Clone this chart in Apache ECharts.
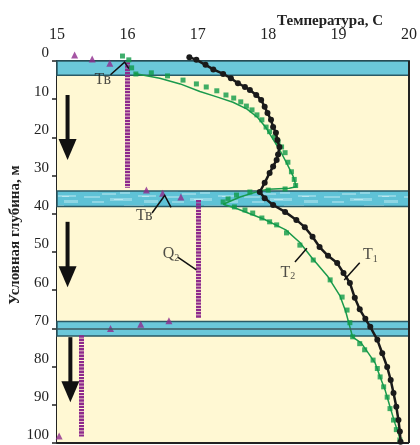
<!DOCTYPE html>
<html>
<head>
<meta charset="utf-8">
<script src="https://cdn.jsdelivr.net/npm/echarts@6/dist/echarts.min.js"></script>
<style>
html, body { margin: 0; padding: 0; background: #fff; }
#chart { width: 420px; height: 445px; }
</style>
</head>
<body>
<div id="chart"></div>
<script>
// temperature ticks (top axis) and depth ticks (left axis)
var tempTicks = [15, 16, 17, 18, 19, 20];
var depthTicks = [0, 10, 20, 30, 40, 50, 60, 70, 80, 90, 100];

// water-bearing layers, depth from / to (m)
var layerTop = [0, 34.0, 68.2];
var layerBottom = [3.7, 38.1, 72.0];

// T1 - measured profile, [temperature, depth]
var t1 = [[16.88,-1],[16.98,-0.3],[17.11,1],[17.22,2.2],[17.36,3.4],[17.47,4.5],[17.57,5.8],
  [17.67,6.8],[17.74,7.6],[17.83,8.9],[17.9,10.2],[17.95,12],[17.99,13.6],[18.04,15.4],
  [18.07,17.3],[18.11,18.8],[18.13,20.7],[18.16,22.5],[18.14,24.5],[18.12,25.9],[18.07,27.6],
  [18.02,29.3],[17.95,31.9],[17.88,34.3],[17.95,35.9],[18.07,37.7],[18.24,39.5],[18.4,41.6],
  [18.52,43.5],[18.63,46],[18.73,48.7],[18.85,51],[18.98,52.9],[19.07,55.5],[19.16,58.1],
  [19.23,62],[19.3,65],[19.38,67.5],[19.45,69.6],[19.55,73],[19.62,76.5],[19.69,80.1],
  [19.74,83.5],[19.78,86.9],[19.82,90.5],[19.85,94],[19.87,97],[19.88,99.7]];

// T2 - second profile points (squares)
var t2 = [[15.93,-1.3],[16.02,-0.3],[16.06,1.8],[16.12,3.4],[16.34,3.1],[16.57,3.9],[16.79,5],
  [16.98,6],[17.12,6.8],[17.27,7.8],[17.4,8.9],[17.51,9.7],[17.61,10.7],[17.69,11.8],[17.77,12.8],
  [17.84,14.1],[17.91,15.4],[17.97,17.3],[18.02,18.5],[18.09,19.9],[18.14,21.2],[18.19,22.5],
  [18.24,24],[18.28,26.5],[18.33,29],[18.37,31],[18.39,32.6],[18.24,33.5],[18.0,33.8],
  [17.74,34.3],[17.55,35.1],[17.43,36.1],[17.36,36.9],[17.52,38.2],[17.67,39],[17.78,39.8],
  [17.91,41.1],[18.02,42.1],[18.12,42.9],[18.26,45],[18.45,48.2],[18.64,52.1],[18.88,57.3],
  [19.05,61.8],[19.12,65.2],[19.16,68.5],[19.2,72.2],[19.3,74],[19.37,75.6],[19.49,78.3],
  [19.55,80.5],[19.59,82.7],[19.64,85.3],[19.69,88],[19.73,91],[19.78,94],[19.82,96.5],[19.87,99.2]];

// T2 - fitted line
var t2Line = [[16.1,3.3],[16.46,4.5],[16.75,6.0],[17.03,8],[17.27,9.4],[17.5,10.8],[17.7,12.6],
  [17.85,14.8],[17.97,17.5],[18.07,20.5],[18.17,23.5],[18.27,27],[18.35,30],[18.4,32.9],
  [18.3,33.3],[18.0,33.6],[17.88,34.0],[17.6,35.6],[17.36,37.5],[17.55,38.6],[17.95,41.5],
  [18.25,44.2],[18.45,47.5],[18.62,51.5],[18.85,56.5],[19.02,61.5],[19.1,65.5],[19.16,69.6],
  [19.2,72.3],[19.32,73.8],[19.42,76.4],[19.52,79.1],[19.59,82.7],[19.66,86.1],[19.73,90.5],
  [19.8,94.8],[19.87,98.7]];

// purple columns (Q): temperature, depth from, depth to
var qTemp = [16.0, 17.0, 15.35];
var qFrom = [0.3, 36.4, 71.8];
var qTo = [33.2, 67.3, 98.3];

// single triangles (Тв)
var tvPoints = [[15.25,-1.6],[15.5,-0.5],[15.75,0.6],[16.27,33.8],[16.5,34.6],[16.76,35.6],
  [15.76,70],[16.19,68.9],[16.59,68],[15.03,98.2]];

// flow arrows: x, depth top, depth tip
var arrowX = [15.15, 15.15, 15.19];
var arrowTop = [8.9, 42.1, 72.3];
var arrowTip = [25.9, 59.2, 89.3];

// text labels and their leader lines
var labels = [
  {name: 'Тв', value: [15.65, 5.0]},
  {name: 'Тв', value: [16.24, 40.6]},
  {name: 'Q2', value: [16.62, 50.6]},
  {name: 'T1', value: [19.45, 50.8]},
  {name: 'T2', value: [18.28, 55.4]}
];
var leaders = [
  [[15.76,3.6],[15.96,0.3],[16.02,2.0]],
  [[16.35,39.8],[16.53,35.2],[16.62,38.3]],
  [[16.72,51.4],[16.98,54.7]],
  [[19.3,52.8],[19.08,57.3]],
  [[18.38,52.6],[18.55,49.0]]
];

var serif = '"Liberation Serif", "DejaVu Serif", serif';

// streaky fill for the middle layer
var pat = document.createElement('canvas');
pat.width = 80; pat.height = 17;
var pc = pat.getContext('2d');
pc.fillStyle = '#5fc2d6'; pc.fillRect(0, 0, 80, 17);
pc.fillStyle = '#8fd6e4';
[[0,2,18,3],[22,6,14,2],[44,1,20,3],[4,9,16,2],[30,11,22,3],[58,8,18,2],[64,13,14,3],[12,14,12,2],[40,5,10,2]].forEach(function (s) {
  pc.fillRect(s[0], s[1], s[2], s[3]);
});
pc.fillStyle = '#b9e7ef';
[[6,3,8,1],[48,2,10,1],[34,12,9,1],[62,9,7,1]].forEach(function (s) {
  pc.fillRect(s[0], s[1], s[2], s[3]);
});

var bandData = [[{coord: [15, 0], itemStyle: {color: '#fff8d3', borderWidth: 0}}, {coord: [20, 100]}]];
for (var i = 0; i < layerTop.length; i++) {
  bandData.push([{
    coord: [15, layerTop[i]],
    itemStyle: {
      color: i === 1 ? {image: pat, repeat: 'repeat'} : '#6bc8da',
      borderColor: '#2b5a66', borderWidth: 1.5
    }
  }, {coord: [20, layerBottom[i]]}]);
}

var chart = echarts.init(document.getElementById('chart'));
chart.setOption({
  animation: false,
  backgroundColor: '#fff',
  grid: {left: 57, right: 11, top: 61, bottom: 2},
  graphic: [
    {type: 'text', right: 37, top: 14, style: {text: 'Температура, С', font: 'bold 15px ' + serif, fill: '#222'}},
    {type: 'text', x: 15, y: 235, rotation: Math.PI / 2,
      style: {text: 'Условная глубина, м', font: 'bold 15px ' + serif, fill: '#222', align: 'center', verticalAlign: 'middle'}}
  ],
  xAxis: {
    type: 'value', position: 'top', min: tempTicks[0], max: tempTicks[tempTicks.length - 1], interval: 1,
    axisLine: {show: true, lineStyle: {color: '#222', width: 2}},
    axisTick: {show: false},
    axisLabel: {margin: 18, color: '#222', fontSize: 16, fontFamily: serif},
    splitLine: {show: true, lineStyle: {color: '#3a3a3a', width: 1}}
  },
  yAxis: {
    type: 'value', inverse: true, min: depthTicks[0], max: depthTicks[depthTicks.length - 1], interval: 10,
    axisLine: {show: true, lineStyle: {color: '#222', width: 2}},
    axisTick: {show: true, length: 5, lineStyle: {color: '#222', width: 1.5}},
    axisLabel: {margin: 8, color: '#222', fontSize: 15, fontFamily: serif, verticalAlign: 'bottom'},
    splitLine: {show: true, lineStyle: {color: '#857d68', width: 1.5}}
  },
  series: [
    {
      type: 'line', z: -1, data: [], silent: true,
      markArea: {silent: true, data: bandData},
      markLine: {silent: true, symbol: 'none', label: {show: false},
        lineStyle: {color: '#3d5a60', width: 1.5, type: 'solid'},
        data: [{yAxis: 70}]}
    },
    {
      type: 'line', z: 0, data: [], silent: true,
      markLine: {silent: true, symbol: 'none', label: {show: false},
        lineStyle: {color: '#222', width: 2, type: 'solid'},
        data: [{xAxis: 20}, {yAxis: 100}]}
    },
    {
      type: 'lines', coordinateSystem: 'cartesian2d', polyline: false, z: 3,
      lineStyle: {color: '#8e2a8d', width: 5, type: [2.4, 0.8], opacity: 1},
      data: qTemp.map(function (t, k) { return {coords: [[t, qFrom[k]], [t, qTo[k]]]}; })
    },
    {
      name: 'Тв', type: 'scatter', z: 4, clip: false, symbol: 'triangle', symbolSize: 7,
      itemStyle: {color: '#8e2a8d'}, data: tvPoints
    },
    {
      name: 'T2 line', type: 'line', z: 4, clip: false, showSymbol: false,
      lineStyle: {color: '#1a9a4c', width: 1.5}, data: t2Line
    },
    {
      name: 'T2', type: 'scatter', z: 5, clip: false, symbol: 'rect', symbolSize: 5,
      itemStyle: {color: '#0f9a49'}, data: t2
    },
    {
      name: 'T1', type: 'line', z: 6, clip: false, symbol: 'circle', symbolSize: 6, showAllSymbol: true,
      itemStyle: {color: '#1a1a1a'}, lineStyle: {color: '#1a1a1a', width: 2.5}, data: t1
    },
    {
      type: 'custom', z: 6,
      renderItem: function (params, api) {
        var a = api.coord([api.value(0), api.value(1)]);
        var b = api.coord([api.value(0), api.value(2)]);
        return {type: 'group', children: [
          {type: 'rect', shape: {x: a[0] - 2, y: a[1], width: 4, height: b[1] - a[1] - 18}, style: {fill: '#111'}},
          {type: 'polygon', shape: {points: [[a[0] - 9, b[1] - 21], [a[0] + 9, b[1] - 21], [a[0], b[1]]]}, style: {fill: '#111'}}
        ]};
      },
      data: arrowX.map(function (x, k) { return [x, arrowTop[k], arrowTip[k]]; })
    },
    {
      type: 'lines', coordinateSystem: 'cartesian2d', polyline: true, z: 7,
      lineStyle: {color: '#111', width: 1.5, opacity: 1},
      data: leaders.map(function (c) { return {coords: c}; })
    },
    {
      type: 'scatter', z: 8, symbolSize: 1, itemStyle: {color: 'rgba(0,0,0,0)'},
      label: {
        show: true, position: 'inside', color: '#222', fontFamily: serif, fontSize: 16,
        formatter: function (p) {
          var n = p.name;
          if (n === 'Тв') return '{m|Тв}';
          return '{m|' + n.charAt(0) + '}{s|' + n.charAt(1) + '}';
        },
        rich: {
          m: {fontFamily: serif, fontSize: 16, color: '#222'},
          s: {fontFamily: serif, fontSize: 10, color: '#222', padding: [8, 0, 0, 0]}
        }
      },
      data: labels
    }
  ]
});
</script>
</body>
</html>
